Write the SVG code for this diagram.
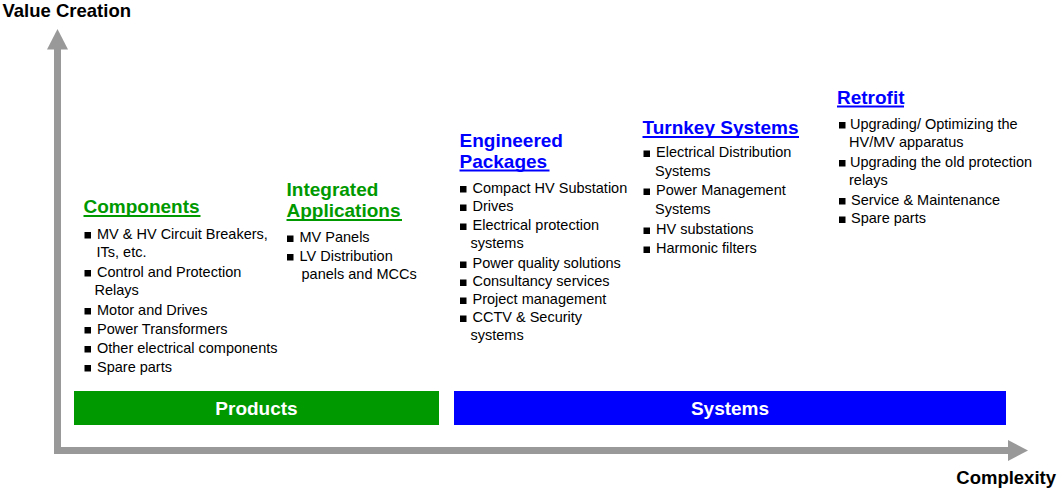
<svg xmlns="http://www.w3.org/2000/svg" xmlns:xlink="http://www.w3.org/1999/xlink" width="1059" height="494" viewBox="0 0 1059 494">
<style>
  text { font-family: "Liberation Sans", Arial, sans-serif; }
  .axis { font-size: 18.5px; font-weight: bold; fill: #000; }
  .hg { font-size: 19px; font-weight: bold; fill: #009900; }
  .hb { font-size: 19px; font-weight: bold; fill: #0000FF; }
  .t { font-size: 14.5px; fill: #000; }
  .bar { font-size: 19px; font-weight: bold; fill: #fff; text-anchor: middle; }
</style>
<defs>
  <rect id="b" width="6.5" height="6.5" fill="#000"/>
</defs>
<rect width="1059" height="494" fill="#fff"/>

<g id="axes" fill="#999">
  <rect x="54" y="47" width="7" height="407"/>
  <polygon points="57.5,29 47,49.5 68,49.5"/>
  <rect x="54" y="447" width="956" height="7"/>
  <polygon points="1028,450.5 1008,440 1008,461"/>
</g>
<text class="axis" x="2.5" y="16.5">Value Creation</text>
<text class="axis" x="1056" y="484" text-anchor="end">Complexity</text>

<g id="products">
  <rect x="74" y="391" width="365" height="34" fill="#009900"/>
  <text class="bar" x="256.5" y="414.5">Products</text>
</g>
<g id="systems">
  <rect x="454" y="391" width="552" height="34" fill="#0000FF"/>
  <text class="bar" x="730" y="414.5">Systems</text>
</g>

<g id="components">
  <text class="hg" x="83.5" y="213">Components</text>
  <rect x="83.5" y="215" width="117" height="2" fill="#009900"/>
  <use xlink:href="#b" x="84.5" y="232"/>
  <text class="t" x="97" y="238.5">MV &amp; HV Circuit Breakers,</text>
  <text class="t" x="96.5" y="256.5">ITs, etc.</text>
  <use xlink:href="#b" x="84.5" y="270"/>
  <text class="t" x="97" y="276.5">Control and Protection</text>
  <text class="t" x="94.5" y="295">Relays</text>
  <use xlink:href="#b" x="84.5" y="308"/>
  <text class="t" x="97" y="314.5">Motor and Drives</text>
  <use xlink:href="#b" x="84.5" y="327"/>
  <text class="t" x="97" y="333.5">Power Transformers</text>
  <use xlink:href="#b" x="84.5" y="346"/>
  <text class="t" x="97" y="352.5">Other electrical components</text>
  <use xlink:href="#b" x="84.5" y="365"/>
  <text class="t" x="97" y="371.5">Spare parts</text>
</g>

<g id="integrated">
  <text class="hg" x="286.5" y="195.5">Integrated</text>
  <text class="hg" x="286.5" y="217">Applications</text>
  <rect x="286.5" y="219" width="115.5" height="2" fill="#009900"/>
  <use xlink:href="#b" x="287" y="235.5"/>
  <text class="t" x="299.5" y="242">MV Panels</text>
  <use xlink:href="#b" x="287" y="254"/>
  <text class="t" x="299.5" y="260.5">LV Distribution</text>
  <text class="t" x="301.5" y="279">panels and MCCs</text>
</g>

<g id="engineered">
  <text class="hb" x="459.5" y="146.5">Engineered</text>
  <text class="hb" x="459.5" y="167.5">Packages</text>
  <rect x="459.5" y="169.5" width="90" height="2" fill="#0000FF"/>
  <use xlink:href="#b" x="460" y="186"/>
  <text class="t" x="472.5" y="192.5">Compact HV Substation</text>
  <use xlink:href="#b" x="460" y="204.5"/>
  <text class="t" x="472.5" y="211">Drives</text>
  <use xlink:href="#b" x="460" y="223.5"/>
  <text class="t" x="472.5" y="230">Electrical protection</text>
  <text class="t" x="470.5" y="248">systems</text>
  <use xlink:href="#b" x="460" y="261.5"/>
  <text class="t" x="472.5" y="268">Power quality solutions</text>
  <use xlink:href="#b" x="460" y="279.5"/>
  <text class="t" x="472.5" y="286">Consultancy services</text>
  <use xlink:href="#b" x="460" y="297.5"/>
  <text class="t" x="472.5" y="304">Project management</text>
  <use xlink:href="#b" x="460" y="315.5"/>
  <text class="t" x="472.5" y="322">CCTV &amp; Security</text>
  <text class="t" x="470.5" y="339.5">systems</text>
</g>

<g id="turnkey">
  <text class="hb" x="642.5" y="134">Turnkey Systems</text>
  <rect x="642.5" y="136" width="156.5" height="2" fill="#0000FF"/>
  <use xlink:href="#b" x="643.5" y="150.5"/>
  <text class="t" x="656" y="157">Electrical Distribution</text>
  <text class="t" x="655" y="176">Systems</text>
  <use xlink:href="#b" x="643.5" y="188.5"/>
  <text class="t" x="656" y="195">Power Management</text>
  <text class="t" x="655" y="214">Systems</text>
  <use xlink:href="#b" x="643.5" y="227.5"/>
  <text class="t" x="656" y="234">HV substations</text>
  <use xlink:href="#b" x="643.5" y="246.5"/>
  <text class="t" x="656" y="253">Harmonic filters</text>
</g>

<g id="retrofit">
  <text class="hb" x="837" y="103.5">Retrofit</text>
  <rect x="837" y="105.5" width="67" height="2" fill="#0000FF"/>
  <use xlink:href="#b" x="839" y="122"/>
  <text class="t" x="850" y="128.5">Upgrading/ Optimizing the</text>
  <text class="t" x="849" y="147">HV/MV apparatus</text>
  <use xlink:href="#b" x="839" y="160"/>
  <text class="t" x="850" y="166.5">Upgrading the old protection</text>
  <text class="t" x="849" y="185">relays</text>
  <use xlink:href="#b" x="839" y="198"/>
  <text class="t" x="851" y="204.5">Service &amp; Maintenance</text>
  <use xlink:href="#b" x="839" y="216.5"/>
  <text class="t" x="851" y="223">Spare parts</text>
</g>
</svg>
